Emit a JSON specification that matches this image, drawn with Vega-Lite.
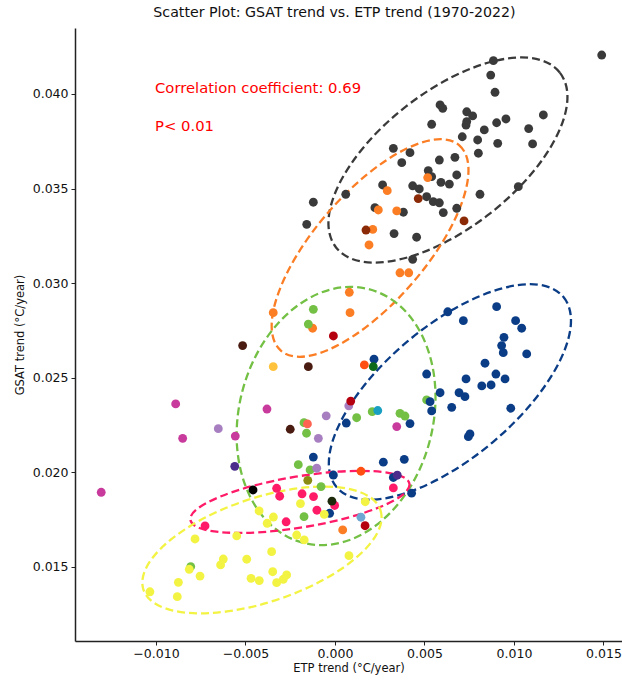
{
  "$schema": "https://vega.github.io/schema/vega-lite/v6.json",
  "width": 547,
  "height": 613,
  "autosize": {"type": "none"},
  "padding": {"left": 75, "top": 28, "right": 0, "bottom": 42},
  "background": "white",
  "config": {"view": {"stroke": null}, "font": "DejaVu Sans"},
  "title": {"text": "Scatter Plot: GSAT trend vs. ETP trend (1970-2022)", "fontSize": 14.2, "fontWeight": "normal", "font": "DejaVu Sans", "color": "#111", "offset": 8, "dx": -14},
  "datasets": {
    "points": [
      {"group": "A", "etp": 0.00885, "gsat": 0.04176},
      {"group": "A", "etp": 0.01490, "gsat": 0.04206},
      {"group": "A", "etp": 0.00870, "gsat": 0.04100},
      {"group": "A", "etp": 0.00894, "gsat": 0.04009},
      {"group": "A", "etp": 0.00587, "gsat": 0.03942},
      {"group": "A", "etp": 0.00602, "gsat": 0.03924},
      {"group": "A", "etp": 0.00736, "gsat": 0.03906},
      {"group": "A", "etp": 0.00769, "gsat": 0.03884},
      {"group": "A", "etp": 0.01164, "gsat": 0.03889},
      {"group": "A", "etp": 0.00955, "gsat": 0.03868},
      {"group": "A", "etp": 0.00903, "gsat": 0.03848},
      {"group": "A", "etp": 0.00736, "gsat": 0.03854},
      {"group": "A", "etp": 0.00732, "gsat": 0.03836},
      {"group": "A", "etp": 0.00540, "gsat": 0.03840},
      {"group": "A", "etp": 0.01082, "gsat": 0.03817},
      {"group": "A", "etp": 0.00834, "gsat": 0.03810},
      {"group": "A", "etp": 0.00711, "gsat": 0.03774},
      {"group": "A", "etp": 0.00797, "gsat": 0.03757},
      {"group": "A", "etp": 0.00909, "gsat": 0.03739},
      {"group": "A", "etp": 0.01104, "gsat": 0.03736},
      {"group": "A", "etp": 0.00326, "gsat": 0.03713},
      {"group": "A", "etp": 0.00419, "gsat": 0.03690},
      {"group": "A", "etp": 0.00801, "gsat": 0.03687},
      {"group": "A", "etp": 0.00670, "gsat": 0.03665},
      {"group": "A", "etp": 0.00583, "gsat": 0.03651},
      {"group": "A", "etp": 0.00373, "gsat": 0.03637},
      {"group": "A", "etp": 0.00521, "gsat": 0.03595},
      {"group": "A", "etp": 0.00540, "gsat": 0.03563},
      {"group": "A", "etp": 0.00680, "gsat": 0.03572},
      {"group": "A", "etp": 0.00592, "gsat": 0.03533},
      {"group": "A", "etp": 0.00639, "gsat": 0.03524},
      {"group": "A", "etp": 0.00266, "gsat": 0.03519},
      {"group": "A", "etp": 0.00434, "gsat": 0.03515},
      {"group": "A", "etp": 0.00471, "gsat": 0.03498},
      {"group": "A", "etp": 0.01024, "gsat": 0.03510},
      {"group": "A", "etp": 0.00810, "gsat": 0.03470},
      {"group": "A", "etp": 0.00512, "gsat": 0.03457},
      {"group": "A", "etp": 0.00060, "gsat": 0.03470},
      {"group": "A", "etp": -0.00121, "gsat": 0.03428},
      {"group": "A", "etp": 0.00549, "gsat": 0.03431},
      {"group": "A", "etp": 0.00583, "gsat": 0.03425},
      {"group": "A", "etp": 0.00223, "gsat": 0.03399},
      {"group": "A", "etp": 0.00382, "gsat": 0.03375},
      {"group": "A", "etp": 0.00605, "gsat": 0.03373},
      {"group": "A", "etp": 0.00680, "gsat": 0.03396},
      {"group": "A", "etp": -0.00158, "gsat": 0.03311},
      {"group": "A", "etp": 0.00330, "gsat": 0.03262},
      {"group": "A", "etp": 0.00456, "gsat": 0.03243},
      {"group": "A", "etp": 0.00434, "gsat": 0.03126},
      {"group": "B", "etp": 0.00518, "gsat": 0.03558},
      {"group": "B", "etp": 0.00292, "gsat": 0.03489},
      {"group": "B", "etp": 0.00242, "gsat": 0.03387},
      {"group": "B", "etp": 0.00345, "gsat": 0.03382},
      {"group": "B", "etp": 0.00211, "gsat": 0.03284},
      {"group": "B", "etp": 0.00190, "gsat": 0.03202},
      {"group": "B", "etp": 0.00363, "gsat": 0.03055},
      {"group": "B", "etp": 0.00412, "gsat": 0.03055},
      {"group": "B", "etp": 0.00080, "gsat": 0.02952},
      {"group": "B", "etp": 0.00084, "gsat": 0.02844},
      {"group": "B", "etp": -0.00345, "gsat": 0.02844},
      {"group": "B", "etp": -0.00125, "gsat": 0.02762},
      {"group": "B", "etp": 0.00043, "gsat": 0.01696},
      {"group": "C", "etp": 0.00465, "gsat": 0.03447},
      {"group": "C", "etp": 0.00721, "gsat": 0.03329},
      {"group": "C", "etp": 0.00173, "gsat": 0.03281},
      {"group": "D", "etp": -0.00121, "gsat": 0.02862},
      {"group": "D", "etp": -0.00149, "gsat": 0.02784},
      {"group": "D", "etp": 0.00121, "gsat": 0.02289},
      {"group": "D", "etp": 0.00208, "gsat": 0.02321},
      {"group": "D", "etp": 0.00363, "gsat": 0.02312},
      {"group": "D", "etp": 0.00391, "gsat": 0.02298},
      {"group": "D", "etp": 0.00512, "gsat": 0.02383},
      {"group": "D", "etp": -0.00173, "gsat": 0.02263},
      {"group": "D", "etp": -0.00159, "gsat": 0.02207},
      {"group": "D", "etp": -0.00205, "gsat": 0.02041},
      {"group": "D", "etp": -0.00139, "gsat": 0.02013},
      {"group": "D", "etp": -0.00078, "gsat": 0.01925},
      {"group": "D", "etp": -0.00173, "gsat": 0.01766},
      {"group": "D", "etp": -0.00806, "gsat": 0.01502},
      {"group": "E", "etp": 0.00903, "gsat": 0.02876},
      {"group": "E", "etp": 0.00630, "gsat": 0.02849},
      {"group": "E", "etp": 0.00717, "gsat": 0.02802},
      {"group": "E", "etp": 0.01009, "gsat": 0.02802},
      {"group": "E", "etp": 0.01043, "gsat": 0.02762},
      {"group": "E", "etp": 0.00944, "gsat": 0.02714},
      {"group": "E", "etp": 0.00931, "gsat": 0.02670},
      {"group": "E", "etp": 0.00940, "gsat": 0.02633},
      {"group": "E", "etp": 0.01071, "gsat": 0.02626},
      {"group": "E", "etp": 0.00838, "gsat": 0.02577},
      {"group": "E", "etp": 0.00512, "gsat": 0.02520},
      {"group": "E", "etp": 0.00899, "gsat": 0.02520},
      {"group": "E", "etp": 0.00732, "gsat": 0.02494},
      {"group": "E", "etp": 0.00950, "gsat": 0.02494},
      {"group": "E", "etp": 0.00820, "gsat": 0.02457},
      {"group": "E", "etp": 0.00872, "gsat": 0.02462},
      {"group": "E", "etp": 0.00587, "gsat": 0.02421},
      {"group": "E", "etp": 0.00693, "gsat": 0.02421},
      {"group": "E", "etp": 0.00726, "gsat": 0.02400},
      {"group": "E", "etp": 0.00531, "gsat": 0.02374},
      {"group": "E", "etp": 0.00652, "gsat": 0.02344},
      {"group": "E", "etp": 0.00982, "gsat": 0.02339},
      {"group": "E", "etp": 0.00540, "gsat": 0.02325},
      {"group": "E", "etp": 0.00419, "gsat": 0.02258},
      {"group": "E", "etp": 0.00754, "gsat": 0.02203},
      {"group": "E", "etp": 0.00745, "gsat": 0.02189},
      {"group": "E", "etp": 0.00387, "gsat": 0.02069},
      {"group": "E", "etp": 0.00270, "gsat": 0.02054},
      {"group": "E", "etp": 0.00326, "gsat": 0.01973},
      {"group": "E", "etp": 0.00218, "gsat": 0.02598},
      {"group": "E", "etp": 0.00063, "gsat": 0.02261},
      {"group": "E", "etp": -0.00121, "gsat": 0.02081},
      {"group": "E", "etp": -0.00009, "gsat": 0.01986},
      {"group": "E", "etp": 0.00428, "gsat": 0.01890},
      {"group": "E", "etp": -0.00030, "gsat": 0.01784},
      {"group": "F", "etp": -0.00326, "gsat": 0.01916},
      {"group": "F", "etp": -0.00309, "gsat": 0.01874},
      {"group": "F", "etp": -0.00184, "gsat": 0.01887},
      {"group": "F", "etp": -0.00120, "gsat": 0.01872},
      {"group": "F", "etp": 0.00326, "gsat": 0.01918},
      {"group": "F", "etp": -0.00002, "gsat": 0.01825},
      {"group": "F", "etp": -0.00101, "gsat": 0.01800},
      {"group": "F", "etp": -0.00273, "gsat": 0.01739},
      {"group": "F", "etp": -0.00726, "gsat": 0.01717},
      {"group": "G", "etp": -0.00193, "gsat": 0.01835},
      {"group": "G", "etp": -0.00424, "gsat": 0.01796},
      {"group": "G", "etp": -0.00344, "gsat": 0.01764},
      {"group": "G", "etp": -0.00379, "gsat": 0.01731},
      {"group": "G", "etp": 0.00169, "gsat": 0.01845},
      {"group": "G", "etp": -0.00060, "gsat": 0.01778},
      {"group": "G", "etp": -0.00549, "gsat": 0.01664},
      {"group": "G", "etp": -0.00782, "gsat": 0.01648},
      {"group": "G", "etp": -0.00214, "gsat": 0.01669},
      {"group": "G", "etp": -0.00172, "gsat": 0.01643},
      {"group": "G", "etp": -0.00354, "gsat": 0.01581},
      {"group": "G", "etp": -0.00624, "gsat": 0.01542},
      {"group": "G", "etp": -0.00639, "gsat": 0.01511},
      {"group": "G", "etp": -0.00493, "gsat": 0.01541},
      {"group": "G", "etp": 0.00078, "gsat": 0.01560},
      {"group": "G", "etp": -0.00348, "gsat": 0.01475},
      {"group": "G", "etp": -0.00270, "gsat": 0.01458},
      {"group": "G", "etp": -0.00289, "gsat": 0.01435},
      {"group": "G", "etp": -0.00326, "gsat": 0.01417},
      {"group": "G", "etp": -0.00469, "gsat": 0.01440},
      {"group": "G", "etp": -0.00423, "gsat": 0.01428},
      {"group": "G", "etp": -0.00754, "gsat": 0.01452},
      {"group": "G", "etp": -0.00875, "gsat": 0.01419},
      {"group": "G", "etp": -0.01034, "gsat": 0.01369},
      {"group": "G", "etp": -0.00881, "gsat": 0.01343},
      {"group": "G", "etp": -0.00814, "gsat": 0.01488},
      {"group": "H", "etp": -0.01306, "gsat": 0.01895},
      {"group": "H", "etp": -0.00890, "gsat": 0.02362},
      {"group": "H", "etp": -0.00851, "gsat": 0.02180},
      {"group": "H", "etp": -0.00557, "gsat": 0.02192},
      {"group": "H", "etp": -0.00380, "gsat": 0.02335},
      {"group": "H", "etp": 0.00345, "gsat": 0.02242},
      {"group": "I", "etp": -0.00652, "gsat": 0.02231},
      {"group": "I", "etp": -0.00093, "gsat": 0.02180},
      {"group": "I", "etp": -0.00102, "gsat": 0.02022},
      {"group": "I", "etp": -0.00049, "gsat": 0.02299},
      {"group": "I", "etp": 0.00077, "gsat": 0.02352},
      {"group": "J", "etp": -0.00560, "gsat": 0.02032},
      {"group": "J", "etp": 0.00348, "gsat": 0.01985},
      {"group": "K", "etp": -0.00516, "gsat": 0.02670},
      {"group": "K", "etp": -0.00149, "gsat": 0.02559},
      {"group": "K", "etp": -0.00250, "gsat": 0.02228},
      {"group": "L", "etp": -0.00458, "gsat": 0.01907},
      {"group": "M", "etp": -0.00345, "gsat": 0.02559},
      {"group": "N", "etp": 0.00239, "gsat": 0.02327},
      {"group": "O", "etp": 0.00145, "gsat": 0.01763},
      {"group": "P", "etp": -0.00009, "gsat": 0.02721},
      {"group": "P", "etp": 0.00088, "gsat": 0.02377},
      {"group": "P", "etp": 0.00168, "gsat": 0.01718},
      {"group": "Q", "etp": -0.00154, "gsat": 0.02256},
      {"group": "R", "etp": 0.00214, "gsat": 0.02559},
      {"group": "S", "etp": -0.00152, "gsat": 0.01958},
      {"group": "T", "etp": 0.00164, "gsat": 0.02568},
      {"group": "T", "etp": 0.00145, "gsat": 0.02006},
      {"group": "U", "etp": -0.00017, "gsat": 0.01848}
    ],
    "ellipses": [
      {"group": "A", "cx": 0.00631, "cy": 0.03651},
      {"group": "B", "cx": 0.00196, "cy": 0.03186},
      {"group": "D", "cx": 0.00006, "cy": 0.02298},
      {"group": "E", "cx": 0.00642, "cy": 0.02425},
      {"group": "F", "cx": -0.00196, "cy": 0.01844},
      {"group": "G", "cx": -0.00408, "cy": 0.01590}
    ],
    "annotations": [
      {"label": "Correlation coefficient: 0.69", "ax": -0.010056, "ay": 0.04026},
      {"label": "P< 0.01", "ax": -0.010056, "ay": 0.03826}
    ]
  },
  "layer": [
    {
      "data": {"name": "ellipses"},
      "transform": [{"filter": "datum.group === 'A'"}],
      "mark": {"type": "point", "shape": "M 1 0 C 1 0.2646 0.5523 0.479 0 0.479 C -0.5523 0.479 -1 0.2646 -1 0 C -1 -0.2646 -0.5523 -0.479 0 -0.479 C 0.5523 -0.479 1 -0.2646 1 0 Z", "size": 80656, "angle": 322, "filled": false, "strokeWidth": 2.3, "strokeDash": [8, 4], "opacity": 1},
      "encoding": {
        "x": {"field": "cx", "type": "quantitative"},
        "y": {"field": "cy", "type": "quantitative"},
        "color": {"field": "group", "type": "nominal", "legend": null}
      }
    },
    {
      "data": {"name": "ellipses"},
      "transform": [{"filter": "datum.group === 'B'"}],
      "mark": {"type": "point", "shape": "M 1 0 C 1 0.2231 0.5523 0.404 0 0.404 C -0.5523 0.404 -1 0.2231 -1 0 C -1 -0.2231 -0.5523 -0.404 0 -0.404 C 0.5523 -0.404 1 -0.2231 1 0 Z", "size": 73984, "angle": 311, "filled": false, "strokeWidth": 2.3, "strokeDash": [8, 4], "opacity": 1},
      "encoding": {
        "x": {"field": "cx", "type": "quantitative"},
        "y": {"field": "cy", "type": "quantitative"},
        "color": {"field": "group", "type": "nominal", "legend": null}
      }
    },
    {
      "data": {"name": "ellipses"},
      "transform": [{"filter": "datum.group === 'D'"}],
      "mark": {"type": "point", "shape": "M 1 0 C 1 0.4087 0.5523 0.74 0 0.74 C -0.5523 0.74 -1 0.4087 -1 0 C -1 -0.4087 -0.5523 -0.74 0 -0.74 C 0.5523 -0.74 1 -0.4087 1 0 Z", "size": 68644, "angle": 284.5, "filled": false, "strokeWidth": 2.3, "strokeDash": [8, 4], "opacity": 1},
      "encoding": {
        "x": {"field": "cx", "type": "quantitative"},
        "y": {"field": "cy", "type": "quantitative"},
        "color": {"field": "group", "type": "nominal", "legend": null}
      }
    },
    {
      "data": {"name": "ellipses"},
      "transform": [{"filter": "datum.group === 'E'"}],
      "mark": {"type": "point", "shape": "M 1 0 C 1 0.2463 0.5523 0.446 0 0.446 C -0.5523 0.446 -1 0.2463 -1 0 C -1 -0.2463 -0.5523 -0.446 0 -0.446 C 0.5523 -0.446 1 -0.2463 1 0 Z", "size": 87616, "angle": 320, "filled": false, "strokeWidth": 2.3, "strokeDash": [8, 4], "opacity": 1},
      "encoding": {
        "x": {"field": "cx", "type": "quantitative"},
        "y": {"field": "cy", "type": "quantitative"},
        "color": {"field": "group", "type": "nominal", "legend": null}
      }
    },
    {
      "data": {"name": "ellipses"},
      "transform": [{"filter": "datum.group === 'F'"}],
      "mark": {"type": "point", "shape": "M 1 0 C 1 0.127 0.5523 0.23 0 0.23 C -0.5523 0.23 -1 0.127 -1 0 C -1 -0.127 -0.5523 -0.23 0 -0.23 C 0.5523 -0.23 1 -0.127 1 0 Z", "size": 49284, "angle": 350.6, "filled": false, "strokeWidth": 2.3, "strokeDash": [8, 4], "opacity": 1},
      "encoding": {
        "x": {"field": "cx", "type": "quantitative"},
        "y": {"field": "cy", "type": "quantitative"},
        "color": {"field": "group", "type": "nominal", "legend": null}
      }
    },
    {
      "data": {"name": "ellipses"},
      "transform": [{"filter": "datum.group === 'G'"}],
      "mark": {"type": "point", "shape": "M 1 0 C 1 0.2298 0.5523 0.416 0 0.416 C -0.5523 0.416 -1 0.2298 -1 0 C -1 -0.2298 -0.5523 -0.416 0 -0.416 C 0.5523 -0.416 1 -0.2298 1 0 Z", "size": 62500, "angle": 341.4, "filled": false, "strokeWidth": 2.3, "strokeDash": [8, 4], "opacity": 1},
      "encoding": {
        "x": {"field": "cx", "type": "quantitative"},
        "y": {"field": "cy", "type": "quantitative"},
        "color": {"field": "group", "type": "nominal", "legend": null}
      }
    },
    {
      "data": {"name": "points"},
      "mark": {"type": "circle", "size": 78, "opacity": 1},
      "encoding": {
        "x": {
          "field": "etp", "type": "quantitative",
          "scale": {"domain": [-0.014525, 0.016034], "nice": false, "zero": false},
          "axis": {"title": "ETP trend (°C/year)", "values": [-0.01, -0.005, 0, 0.005, 0.01, 0.015], "format": ".3f", "grid": false, "tickSize": 4, "tickColor": "#222", "domainColor": "#222", "domainWidth": 1.5, "labelFontSize": 12.5, "labelColor": "#111", "labelFont": "DejaVu Sans", "labelFlush": false, "labelOverlap": false, "labelPadding": 2, "titleFont": "DejaVu Sans", "titleFontSize": 11.5, "titleFontWeight": "normal", "titleColor": "#111", "titlePadding": 3}
        },
        "y": {
          "field": "gsat", "type": "quantitative",
          "scale": {"domain": [0.011088, 0.043488], "nice": false, "zero": false},
          "axis": {"title": "GSAT trend (°C/year)", "values": [0.015, 0.02, 0.025, 0.03, 0.035, 0.04], "format": ".3f", "grid": false, "tickSize": 4, "tickColor": "#222", "domainColor": "#222", "domainWidth": 1.5, "labelFontSize": 12.5, "labelColor": "#111", "labelFont": "DejaVu Sans", "labelFlush": false, "labelOverlap": false, "labelPadding": 3, "titleFont": "DejaVu Sans", "titleFontSize": 11.5, "titleFontWeight": "normal", "titleColor": "#111", "titlePadding": 7}
        },
        "color": {
          "field": "group", "type": "nominal", "legend": null,
          "scale": {
            "domain": ["A", "B", "C", "D", "E", "F", "G", "H", "I", "J", "K", "L", "M", "N", "O", "P", "Q", "R", "S", "T", "U"],
            "range": ["#3a3a3a", "#fb7d24", "#8a2a06", "#73c045", "#0b3d87", "#ff1b68", "#f3f343", "#c83a9c", "#a77fc1", "#4b2b8b", "#4a1b10", "#000000", "#ffc23c", "#199fc1", "#6ea7d2", "#b5000f", "#ff6453", "#0c6a18", "#8b8b12", "#ff4f12", "#1d2a0c"]
          }
        }
      }
    },
    {
      "data": {"name": "annotations"},
      "mark": {"type": "text", "align": "left", "baseline": "middle", "color": "#ff0000", "fontSize": 14.8, "font": "DejaVu Sans"},
      "encoding": {
        "x": {"field": "ax", "type": "quantitative"},
        "y": {"field": "ay", "type": "quantitative"},
        "text": {"field": "label", "type": "nominal"}
      }
    },
    {
      "mark": {"type": "rule", "color": "#222", "strokeWidth": 1.5},
      "encoding": {"y": {"datum": 0.043488}}
    }
  ]
}
